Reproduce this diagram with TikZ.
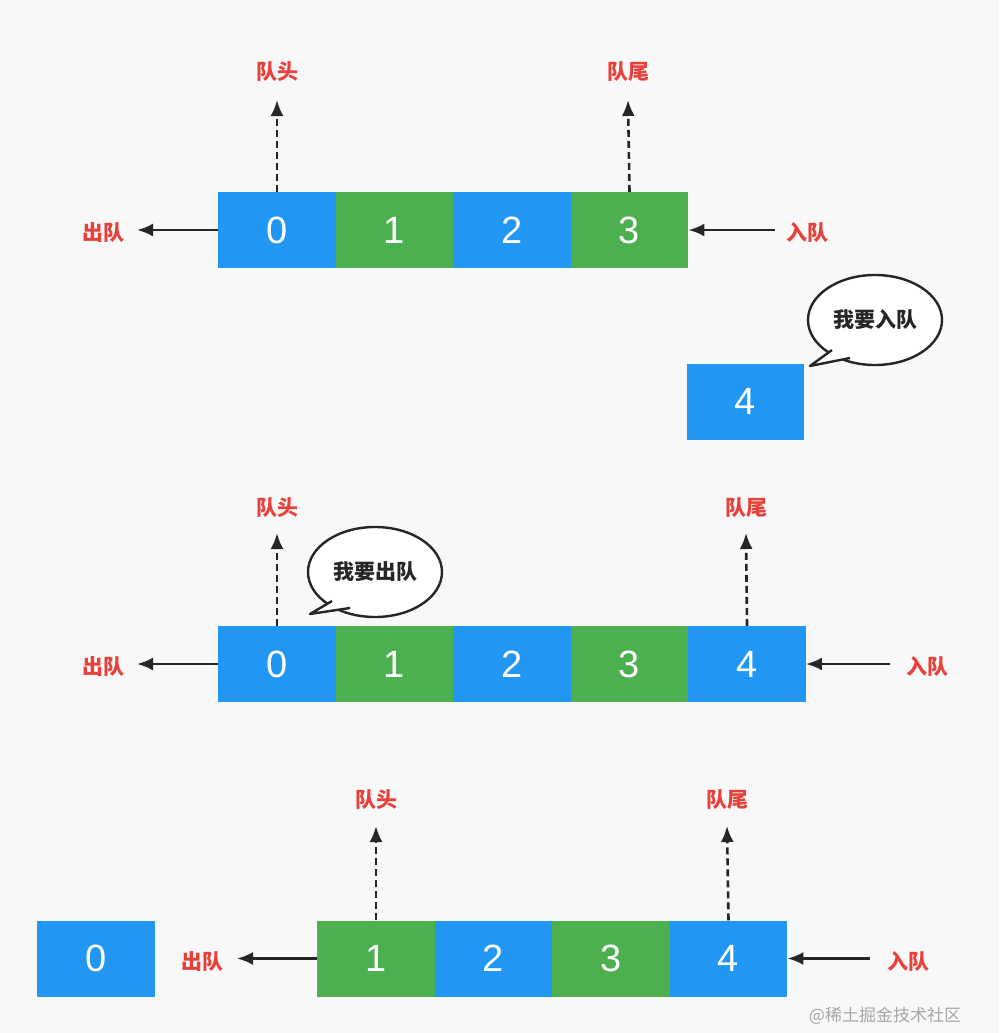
\documentclass[tikz,border=0pt]{standalone}
\usepackage{fontspec}
\setmainfont{Liberation Sans}
\newfontfamily\cjk{Noto Sans CJK SC}
\usetikzlibrary{arrows.meta,shapes.geometric}
\definecolor{qb}{HTML}{2196F3}
\definecolor{qg}{HTML}{4CAF50}
\definecolor{qr}{HTML}{E8403A}
\definecolor{bg}{HTML}{F8F8F8}
\begin{document}
\begin{tikzpicture}[x=1pt,y=-1pt,
 cell/.style={minimum width=117.5pt,minimum height=76pt,inner sep=0,text=white,font=\fontsize{38}{38}\selectfont},
 lab/.style={text=qr,font=\cjk\bfseries\fontsize{21}{21}\selectfont},
 arr/.style={line width=2.6pt,draw=black!85,-{Latex[length=16pt,width=13pt]}},
 darr/.style={arr,dash pattern=on 7pt off 4pt},
 bub/.style={ellipse,draw=black!85,line width=2.4pt,fill=white,minimum width=134pt,minimum height=90pt,font=\cjk\bfseries\fontsize{21}{21}\selectfont,text=black!85}]
\fill[bg] (0,0) rectangle (999,1033);
% row 1
\foreach \i/\c in {0/qb,1/qg,2/qb,3/qg}{
 \node[cell,fill=\c] (a\i) at (277+117.5*\i,230) {\i};}
\node[lab] (ao) at (103,233) {出队};
\node[lab] (ai) at (807,233) {入队};
\coordinate (aie) at (775,230);
\draw[arr] (a0.west) -- (137,230);
\node[lab] (ah) at (277,72) {队头};
\node[lab] (at) at (628,72) {队尾};
\draw[darr] (a0.north) -- (277,100);
\draw[darr] (a3.north) -- (628,100);
\draw[arr] (aie) -- (a3.east);
% box 4 + bubble
\node[cell,fill=qb] (b4) at (745.5,401.5) {4};
\node[bub] (bb1) at (875,320) {我要入队};
\fill[white] (832,350) -- (810,366) -- (850,358) -- cycle;
\draw[black!85,line width=2.4pt,line join=round] (832,350) -- (810,366) -- (850,358);
% row 2
\foreach \i/\c in {0/qb,1/qg,2/qb,3/qg,4/qb}{
 \node[cell,fill=\c] (c\i) at (277+117.5*\i,664) {\i};}
\node[lab] (co) at (103,667) {出队};
\node[lab] (ci) at (927,667) {入队};
\coordinate (cie) at (890,664);
\draw[arr] (c0.west) -- (137,664);
\draw[arr] (cie) -- (c4.east);
\node[lab] (ch) at (277,508) {队头};
\node[lab] (ct) at (746,508) {队尾};
\draw[darr] (c0.north) -- (277,533);
\draw[darr] (c4.north) -- (746,533);
\node[bub] (bb2) at (375,572) {我要出队};
\fill[white] (332,601) -- (310,614) -- (350,608) -- cycle;
\draw[black!85,line width=2.4pt,line join=round] (332,601) -- (310,614) -- (350,608);
% row 3
\node[cell,fill=qb] (d0) at (96,958.5) {0};
\foreach \i/\c in {1/qg,2/qb,3/qg,4/qb}{
 \node[cell,fill=\c] (d\i) at (376+117.5*\i-117.5,958.5) {\i};}
\node[lab] (do) at (202,962) {出队};
\node[lab] (di) at (908,962) {入队};
\coordinate (die) at (870,958.5);
\draw[arr] (d1.west) -- (237,958.5);
\draw[arr] (die) -- (d4.east);
\node[lab] (dh) at (376,800) {队头};
\node[lab] (dt) at (727,800) {队尾};
\draw[darr] (d1.north) -- (376,826);
\draw[darr] (d4.north) -- (727,826);
\node[text=black!35,font=\cjk\fontsize{17}{17}\selectfont] (wm) at (885,1016) {@稀土掘金技术社区};
\end{tikzpicture}
\end{document}
